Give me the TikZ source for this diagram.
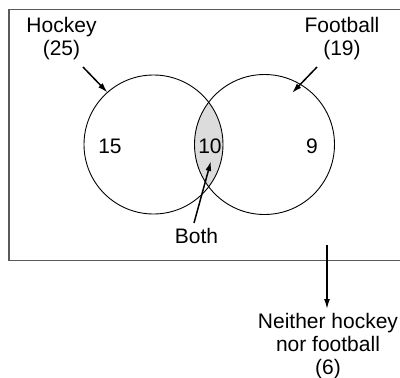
\documentclass[tikz,border=0pt]{standalone}
\usepackage{fontspec}
\setmainfont{Liberation Sans}
\usetikzlibrary{arrows.meta}
\definecolor{framegray}{HTML}{5A5A5A}
\definecolor{lensgray}{HTML}{DCDCDC}
\tikzset{
  lbl/.style={inner sep=0pt, align=center, font=\fontsize{21}{23}\selectfont},
  ring/.style={draw=black, line width=0.9pt},
  pointer/.style={draw=black, line width=1.5pt, -{Latex[length=10pt,width=6pt]}},
  frame/.style={draw=framegray, line width=1.6pt}
}
\begin{document}
\begin{tikzpicture}[x=1pt,y=-1pt]
\useasboundingbox (0,0) rectangle (400,378);
% frame (right side runs off the picture)
\draw[frame] (402,9.5) -- (9,9.5) -- (9,260.5) -- (402,260.5);
% lens
\begin{scope}
  \clip (153.5,144.5) circle (69.5);
  \fill[lensgray] (264.5,144.5) circle (70);
\end{scope}
\draw[ring] (153.5,144.5) circle (69.5);
\draw[ring] (264.5,144.5) circle (70);
% labels
\node[lbl, anchor=north] (hockey) at (61.5,17.5) {Hockey\\(25)};
\node[lbl, anchor=north] (football) at (342,17.5) {Football\\(19)};
\node[lbl] (n15) at (110,146.5) {15};
\node[lbl] (n10) at (210,146.5) {10};
\node[lbl] (n9) at (312,146.5) {9};
\node[lbl] (both) at (196.5,236) {Both};
\node[lbl, anchor=north] (neither) at (328,313) {Neither hockey\\nor football\\(6)};
% arrow anchors
\coordinate (hs) at (83,67);
\coordinate (he) at (107.5,92.5);
\coordinate (fs) at (317,67);
\coordinate (fe) at (292,93);
\coordinate (bs) at (194,223);
\coordinate (be) at (211,161);
\coordinate (ns) at (327,245);
\coordinate (ne) at (327,309);
\draw[pointer] (hs) -- (he);
\draw[pointer] (fs) -- (fe);
\draw[pointer] (bs) -- (be);
\draw[pointer] (ns) -- (ne);
\end{tikzpicture}
\end{document}
